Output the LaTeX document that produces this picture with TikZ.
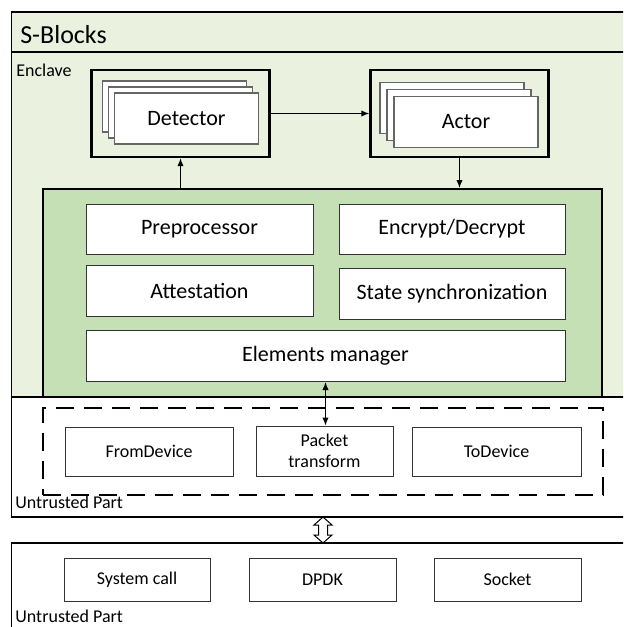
\documentclass[tikz,border=0pt]{standalone}
\usepackage{fontspec}
\setmainfont{Carlito}
\usepackage{tikz}
\usetikzlibrary{arrows.meta,positioning,calc}
\definecolor{enclavebg}{HTML}{EBF1DF}
\definecolor{coregreen}{HTML}{C5E0B4}
\tikzset{
  modbox/.style={draw=black!80,fill=white,line width=0.5pt,inner sep=0pt,font=\fontsize{11}{13}\selectfont},
  iobox/.style={draw=black!80,fill=white,line width=0.5pt,inner sep=0pt,align=center,font=\fontsize{9}{10.5}\selectfont},
  page/.style={draw=black!60,fill=white,line width=0.6pt,minimum width=72pt,minimum height=25.5pt,inner sep=0pt},
  holder/.style={draw=black,line width=1.2pt,minimum width=89pt,minimum height=43.5pt,inner sep=0pt},
  tag/.style={anchor=base west,inner sep=0pt,font=\fontsize{9}{11}\selectfont},
  frame/.style={line width=0.8pt},
  link/.style={line width=0.6pt},
}

\begin{document}
\begin{tikzpicture}[>={Latex[length=4pt,width=3.2pt]},x=0.5pt,y=-0.5pt]
  \useasboundingbox (0,0) rectangle (623,627);
  \clip (0,0) rectangle (623,627);

  % S-Blocks frame
  \fill[enclavebg] (11.5,12) rectangle (630,397);
  \draw[frame] (11.5,12) rectangle (630,517);
  \draw[frame] (11.5,52) -- (630,52);
  \draw[frame] (11.5,397) -- (630,397);
  \node[anchor=base west,inner sep=0pt,font=\fontsize{13}{15}\selectfont] (title) at (20,43) {S-Blocks};
  \node[tag] (enclave) at (16,76) {Enclave};

  % detector and actor stacks
  \node[page] (det3) at (174.5,106.5) {};
  \node[page] (det2) at (180.5,112.5) {};
  \node[page,font=\fontsize{11}{13}\selectfont] (det1) at (186.5,118.5) {Detector};
  \node[holder] (det) at (180.5,113.5) {};
  \node[page] (act3) at (452,108) {};
  \node[page] (act2) at (459,115) {};
  \node[page,font=\fontsize{11}{13}\selectfont] (act1) at (466,122) {Actor};
  \node[holder] (act) at (459.5,113.5) {};
  \draw[->,link] (det) -- (act);

  % enclave core
  \node[draw,fill=coregreen,line width=1pt,minimum width=279.5pt,minimum height=104pt,inner sep=0pt] (core) at (322.5,293) {};
  \draw[->,link] (core.north -| det.south) -- (det.south);
  \draw[->,link] (act.south) -- (act.south |- core.north);
  \node[modbox,minimum width=113.5pt,minimum height=25pt] (pre) at (199.5,229) {Preprocessor};
  \node[modbox,minimum width=113pt,minimum height=25pt] (enc) at (452,229) {Encrypt/Decrypt};
  \node[modbox,minimum width=113.5pt,minimum height=25.5pt] (att) at (199.5,291) {Attestation};
  \node[modbox,minimum width=113pt,minimum height=25.5pt] (sync) at (452,293.5) {State synchronization};
  \node[modbox,minimum width=239.5pt,minimum height=25.5pt] (elem) at (325.5,356) {Elements manager};

  % untrusted element part
  \node[draw,line width=1.2pt,dash pattern=on 9pt off 5pt,minimum width=280pt,minimum height=43.5pt,inner sep=0pt] (untr) at (323,451.5) {};
  \node[iobox,minimum width=84pt,minimum height=24.5pt] (from) at (149,451.5) {FromDevice};
  \node[iobox,minimum width=68.5pt,minimum height=25pt] (pkt) at (324.5,451) {Packet\\transform};
  \node[iobox,minimum width=84.5pt,minimum height=24.5pt] (to) at (496.5,451.5) {ToDevice};
  \draw[<->,link] (elem.south) -- (elem.south |- pkt.north);
  \node[tag] (untr1) at (15,508) {Untrusted Part};

  % host side
  \coordinate (sbbot) at (323,517);
  \coordinate (hosttop) at (323,543);
  \draw[fill=white,line width=0.5pt] (sbbot) -- ++(9,8) -- ++(-4.5,0) -- ++(0,10) -- ++(4.5,0)
    -- (hosttop) -- ++(-9,-8) -- ++(4.5,0) -- ++(0,-10) -- ++(-4.5,0) -- cycle;
  \draw[frame] (11.5,543) rectangle (630,650);
  \node[iobox,minimum width=73pt,minimum height=21.5pt] (sys) at (137,579.5) {System call};
  \node[iobox,minimum width=73.5pt,minimum height=21.5pt] (dpdk) at (322.5,579.5) {DPDK};
  \node[iobox,minimum width=73.5pt,minimum height=21.5pt] (sock) at (507.5,579.5) {Socket};
  \node[tag] (untr2) at (15,622) {Untrusted Part};
\end{tikzpicture}
\end{document}
